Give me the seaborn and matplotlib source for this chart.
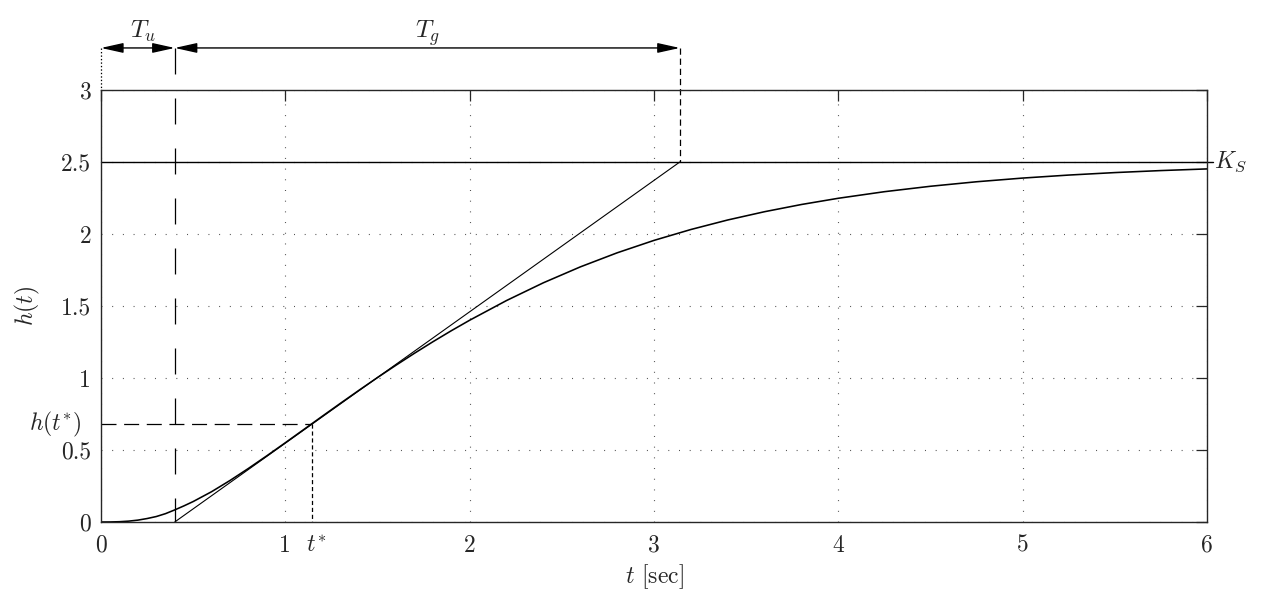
import numpy as np
import matplotlib
matplotlib.use("Agg")
import matplotlib.pyplot as plt
import seaborn as sns

# step response
t_vals = [0.0, 0.05, 0.1, 0.15, 0.2, 0.25, 0.3, 0.35, 0.4, 0.45, 0.5, 0.6,
          0.7, 0.8, 0.9, 1.0, 1.1, 1.2, 1.3, 1.4, 1.5, 1.6, 1.7, 1.8, 1.9,
          2.0, 2.2, 2.4, 2.6, 2.8, 3.0, 3.2, 3.4, 3.6, 3.8, 4.0, 4.25, 4.5,
          4.75, 5.0, 5.25, 5.5, 5.75, 6.0]
h_vals = [0.0, 0.0003, 0.002, 0.006, 0.013, 0.024, 0.038, 0.058, 0.084,
          0.112, 0.142, 0.2105, 0.2884, 0.3722, 0.4601, 0.5505, 0.6422,
          0.7341, 0.8253, 0.9152, 1.0031, 1.0886, 1.1714, 1.2513, 1.328,
          1.4012, 1.538, 1.6613, 1.7715, 1.8693, 1.9556, 2.0312, 2.0974,
          2.1549, 2.2049, 2.2481, 2.2938, 2.3315, 2.3628, 2.3884, 2.4093,
          2.4265, 2.4405, 2.452]

ks = 2.5          # K_S
tu = 0.40         # T_u
tg_end = 3.14     # T_u + T_g
t_star = 1.145
h_star = 0.68

x_ticks = [0, 1, 2, 3, 4, 5, 6]
y_ticks = [0, 0.5, 1, 1.5, 2, 2.5, 3]
y_tick_labels = ["0", "0.5", "1", "1.5", "2", "2.5", "3"]

sns.set_style("white")
plt.rcParams["font.family"] = "serif"
plt.rcParams["font.serif"] = ["cmr10"]
plt.rcParams["mathtext.fontset"] = "cm"
plt.rcParams["axes.unicode_minus"] = False
plt.rcParams["axes.formatter.use_mathtext"] = True
plt.rcParams["lines.scale_dashes"] = False

fs = 17
fig = plt.figure(figsize=(12.64, 6.03), dpi=100)
ax = fig.add_axes([101 / 1264, 1 - 522 / 603, 1106 / 1264, 432 / 603])

sns.lineplot(x=t_vals, y=h_vals, ax=ax, color="k", lw=1.15)
# tangent through the inflection point
sns.lineplot(x=[tu, tg_end], y=[0, ks], ax=ax, color="k", lw=0.8)
ax.plot([0, 6.03], [ks, ks], color="k", lw=1.0, clip_on=False)

ax.set_xlim(0, 6)
ax.set_ylim(0, 3)
ax.set_xticks(x_ticks)
ax.set_xticklabels([str(v) for v in x_ticks])
ax.set_yticks(y_ticks)
ax.set_yticklabels(y_tick_labels)
ax.tick_params(axis="both", direction="in", length=8, width=0.9,
               top=True, right=True, labelsize=fs, color="0.15")
ax.tick_params(axis="x", pad=9)
ax.tick_params(axis="y", pad=7)
ax.grid(True, color="0.3", lw=0.8, linestyle=(0, (0.7, 7)))
for s in ax.spines.values():
    s.set_linewidth(1.0)
    s.set_color("0.15")

ax.set_xlabel(r"$t$ [sec]", fontsize=fs)
ax.xaxis.set_label_coords(0.5, -0.093)
ax.set_ylabel(r"$h(t)$", fontsize=fs)
ax.yaxis.set_label_coords(-0.053, 0.5)

# helper lines
y_arrow = 3.292
ax.plot([tu, tu], [y_arrow, 0], color="k", lw=0.9,
        linestyle=(0, (18.7, 17.3)), clip_on=False)
ax.plot([0, t_star], [h_star, h_star], color="k", lw=0.9,
        linestyle=(0, (10.8, 5.5)))
ax.plot([t_star, t_star], [h_star, 0], color="k", lw=0.9,
        linestyle=(0, (3, 2)))
ax.plot([tg_end, tg_end], [y_arrow, ks], color="k", lw=0.9,
        linestyle=(0, (4.5, 2.8)), clip_on=False)
ax.plot([0, 0], [y_arrow, 3], color="k", lw=0.9,
        linestyle=(0, (1, 1.5)), clip_on=False)

arrow = dict(arrowstyle="<|-|>,head_length=0.9,head_width=0.2",
             mutation_scale=15, color="k", lw=1.0, shrinkA=0, shrinkB=0)
ax.annotate("", xy=(tu, y_arrow), xytext=(0, y_arrow), arrowprops=arrow,
            annotation_clip=False)
ax.annotate("", xy=(tg_end, y_arrow), xytext=(tu, y_arrow), arrowprops=arrow,
            annotation_clip=False)

ax.text(tu / 2 + 0.03, 3.36, r"$T_u$", ha="center", va="baseline", fontsize=18)
ax.text((tu + tg_end) / 2, 3.36, r"$T_g$", ha="center", va="baseline", fontsize=18)
ax.text(6.04, ks, r"$K_S$", ha="left", va="center", fontsize=fs)
ax.text(-0.105, h_star, r"$h(t^{*})$", ha="right", va="center", fontsize=fs)
ax.text(t_star + 0.02, -0.03, r"$t^{*}$", ha="center", va="top", fontsize=fs,
        transform=ax.get_xaxis_transform())

fig.savefig("out.png", dpi=100)
